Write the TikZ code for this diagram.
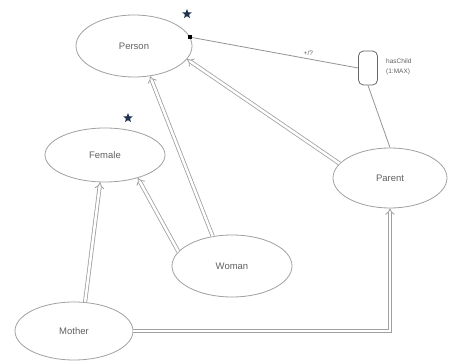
\documentclass[tikz,border=0pt]{standalone}
\usepackage{fontspec}
\setmainfont{Liberation Sans}
\usetikzlibrary{shapes.geometric,arrows.meta}
\definecolor{edgegray}{HTML}{A0A0A0}
\definecolor{txtgray}{HTML}{606060}
\definecolor{starblue}{HTML}{1F3350}
\begin{document}
\begin{tikzpicture}[x=1pt,y=-1pt,
  cls/.style={ellipse,draw=edgegray,line width=0.8pt,text=txtgray,font=\fontsize{9.5}{11}\selectfont,inner sep=0pt},
  isa/.style={draw=edgegray,line width=0.8pt,double=white,double distance=2.5pt,-{Implies}},
  prop/.style={draw=gray!80!black,line width=0.8pt,rounded corners=5pt,minimum width=19pt,minimum height=34pt,inner sep=0pt},
  rel/.style={draw=gray!85,line width=0.8pt},
  plabel/.style={text=txtgray,font=\fontsize{6.5}{7.5}\selectfont,inner sep=0pt,anchor=west},
  starmark/.style={star,star points=5,star point ratio=2.3,fill=starblue,inner sep=0pt,minimum size=10pt}]
\useasboundingbox (0,0) rectangle (456,363);
\node[cls,minimum width=116pt,minimum height=62pt] (person) at (134,46) {Person};
\node[cls,minimum width=120pt,minimum height=54pt] (female) at (105,155) {Female};
\node[cls,minimum width=120pt,minimum height=62pt] (woman) at (232,266) {Woman};
\node[cls,minimum width=118pt,minimum height=58pt] (mother) at (74,331) {Mother};
\node[cls,minimum width=114pt,minimum height=60pt] (parent) at (390,178) {Parent};
\node[prop] (haschild) at (368,68) {};
\node[plabel] (hclabel) at (386,61) {hasChild};
\node[plabel] (hccard) at (386,72) {(1:MAX)};
\node[starmark] (star1) at (187,14) {};
\node[starmark] (star2) at (128,118) {};
\node[fill=black,minimum size=4pt,inner sep=0pt] (sq) at (person.9) {};
\draw[rel] (sq) -- node[above,pos=0.7,text=txtgray,font=\fontsize{6.5}{7.5}\selectfont,inner sep=3pt] (quant) {+/?} (haschild.west);
\draw[rel] (haschild.south) -- (parent.north);
\draw[isa] (parent.164) -- (person.-14);
\draw[isa] (woman.123) -- (person.-62);
\draw[isa] (woman.165) -- (female.-35);
\draw[isa] (mother.69) -- (female.-100);
\draw[isa] (mother.east) -| (parent.south);
\end{tikzpicture}
\end{document}
